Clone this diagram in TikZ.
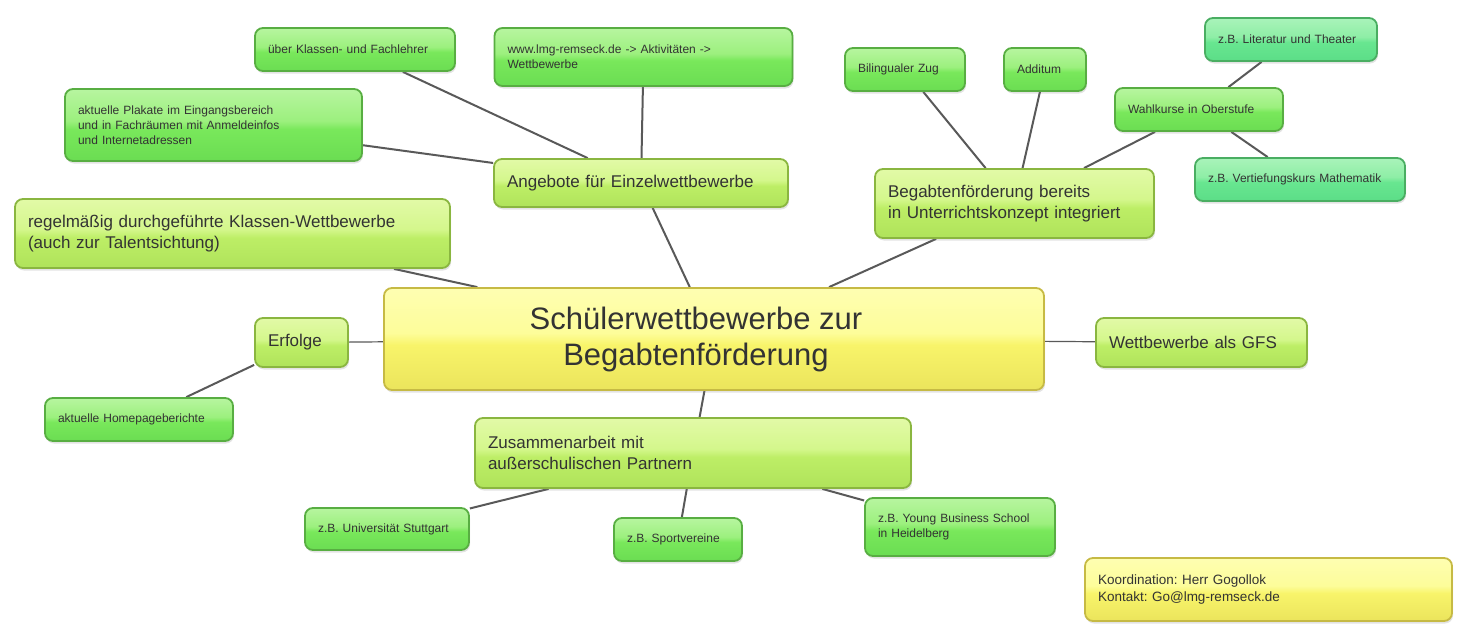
\documentclass[tikz,border=0pt]{standalone}
\usepackage{fontspec}
\setmainfont{Liberation Sans}
\frenchspacing
\usetikzlibrary{shadows,backgrounds}
\definecolor{lftop}{HTML}{D6FBC6}\definecolor{lfhi}{HTML}{9CF07E}
\definecolor{lfmid}{HTML}{79E85B}\definecolor{lfbot}{HTML}{5AD048}
\definecolor{lfline}{HTML}{58AE42}
\definecolor{lmtop}{HTML}{F2FDC6}\definecolor{lmhi}{HTML}{D4F78C}
\definecolor{lmmid}{HTML}{BDEE66}\definecolor{lmbot}{HTML}{A0D64E}
\definecolor{lmline}{HTML}{8AB640}
\definecolor{yetop}{HTML}{FFFFCC}\definecolor{yehi}{HTML}{FDFD9A}
\definecolor{yemid}{HTML}{F8F46A}\definecolor{yebot}{HTML}{DCD24C}
\definecolor{yeline}{HTML}{C6BA44}
\definecolor{tetop}{HTML}{C8F9D0}\definecolor{tehi}{HTML}{8EEEA6}
\definecolor{temid}{HTML}{68E690}\definecolor{tebot}{HTML}{4ED47E}
\definecolor{teline}{HTML}{4AAE62}
\pgfdeclareverticalshading{leafshade}{100bp}{color(0bp)=(lfbot); color(47bp)=(lfmid); color(53bp)=(lfhi); color(100bp)=(lftop)}
\pgfdeclareverticalshading{limeshade}{100bp}{color(0bp)=(lmbot); color(47bp)=(lmmid); color(53bp)=(lmhi); color(100bp)=(lmtop)}
\pgfdeclareverticalshading{yellowshade}{100bp}{color(0bp)=(yebot); color(47bp)=(yemid); color(53bp)=(yehi); color(100bp)=(yetop)}
\pgfdeclareverticalshading{tealshade}{100bp}{color(0bp)=(tebot); color(47bp)=(temid); color(53bp)=(tehi); color(100bp)=(tetop)}
\tikzstyle{box}=[rounded corners=8pt, line width=1.8pt, inner xsep=13pt, inner ysep=2pt, align=left, text=black!80, drop shadow={opacity=0.22, shadow xshift=1pt, shadow yshift=-2.5pt}]
\tikzstyle{leaf}=[box, shading=leafshade, draw=lfline, font=\fontsize{12}{15}\selectfont]
\tikzstyle{tealleaf}=[box, shading=tealshade, draw=teline, font=\fontsize{12}{15}\selectfont]
\tikzstyle{branch}=[box, shading=limeshade, draw=lmline, font=\fontsize{17}{21.5}\selectfont]
\tikzstyle{root}=[box, shading=yellowshade, draw=yeline, align=center, font=\fontsize{31}{36}\selectfont]
\tikzstyle{note}=[box, shading=yellowshade, draw=yeline, font=\fontsize{13.5}{17}\selectfont]
\tikzstyle{link}=[draw=black!65, line width=2pt]

\begin{document}
\begin{tikzpicture}[x=1pt, y=-1pt]
	\useasboundingbox (0,0) rectangle (1463,632);
	\node[root, minimum width=660pt, minimum height=102pt] (main) at (714,339) {\hspace*{-36pt}Schülerwettbewerbe zur\\\hspace*{-36pt}Begabtenförderung};
	
	\node[branch, text width=268pt, minimum height=48pt] (ange) at (641,183) {Angebote für Einzelwettbewerbe};
	\node[leaf, text width=174pt, minimum height=43pt] (ueber) at (355,49.5) {über Klassen- und Fachlehrer};
	\node[leaf, text width=272pt, minimum height=58pt] (www) at (643.5,57) {www.lmg-remseck.de -> Aktivitäten ->\\Wettbewerbe};
	\node[leaf, text width=271pt, minimum height=72pt] (plak) at (213.5,125) {aktuelle Plakate im Eingangsbereich\\und in Fachräumen mit Anmeldeinfos\\und Internetadressen};
	\node[branch, text width=409pt, minimum height=69pt] (regel) at (232.5,233.5) {regelmäßig durchgeführte Klassen-Wettbewerbe\\(auch zur Talentsichtung)};
	
	\node[branch, text width=253pt, minimum height=69pt] (begab) at (1014.5,203.5) {Begabtenförderung bereits\\in Unterrichtskonzept integriert};
	\node[leaf, text width=94pt, minimum height=43pt] (bili) at (905,69.5) {Bilingualer Zug};
	\node[leaf, text width=56pt, minimum height=43pt] (addi) at (1045,69.5) {Additum};
	\node[leaf, text width=142pt, minimum height=43pt] (wahl) at (1199,109.5) {Wahlkurse in Oberstufe};
	\node[tealleaf, text width=146pt, minimum height=43pt] (lit) at (1291,39.5) {z.B. Literatur und Theater};
	\node[tealleaf, text width=184pt, minimum height=43pt] (vert) at (1300,179.5) {z.B. Vertiefungskurs Mathematik};
	
	\node[branch, text width=185pt, minimum height=49pt] (gfs) at (1201.5,342.5) {Wettbewerbe als GFS};
	\node[branch, text width=67pt, minimum height=49pt] (erf) at (301.5,342.5) {Erfolge};
	\node[leaf, text width=162pt, minimum height=43pt] (home) at (139,419.5) {aktuelle Homepageberichte};
	
	\node[branch, text width=410pt, minimum height=70pt] (zus) at (693,453) {Zusammenarbeit mit\\außerschulischen Partnern};
	\node[leaf, text width=138pt, minimum height=42pt] (uni) at (387,529) {z.B. Universität Stuttgart};
	\node[leaf, text width=102pt, minimum height=43pt] (sport) at (678,539.5) {z.B. Sportvereine};
	\node[leaf, text width=164pt, minimum height=58pt] (young) at (960,527) {z.B. Young Business School\\in Heidelberg};
	
	\node[note, text width=341pt, minimum height=63pt] (koord) at (1268.5,589.5) {Koordination: Herr Gogollok\\Kontakt: Go@lmg-remseck.de};
	
	\begin{scope}[on background layer]
		\draw[link](main)--(ange);
		\draw[link](ange)--(ueber);
		\draw[link](ange)--(www);
		\draw[link](ange)--(plak);
		\draw[link](main)--(regel);
		\draw[link](main)--(begab);
		\draw[link](begab)--(bili);
		\draw[link](begab)--(addi);
		\draw[link](begab)--(wahl);
		\draw[link](wahl)--(lit);
		\draw[link](wahl)--(vert);
		\draw[link, line width=1.2pt](main)--(gfs);
		\draw[link, line width=1.2pt](main)--(erf);
		\draw[link](erf)--(home);
		\draw[link](main)--(zus);
		\draw[link](zus)--(uni);
		\draw[link](zus)--(sport);
		\draw[link](zus)--(young);
	\end{scope}
\end{tikzpicture}
\end{document}
